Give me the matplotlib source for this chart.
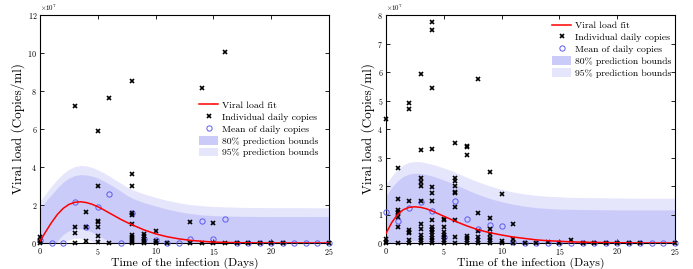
import numpy as np
import matplotlib as mpl
mpl.use('Agg')
import matplotlib.pyplot as plt
from matplotlib.ticker import ScalarFormatter
from matplotlib.lines import Line2D
from matplotlib.patches import Patch

plt.rcParams['font.family'] = 'serif'
plt.rcParams['font.serif'] = ['cmr10']
plt.rcParams['mathtext.fontset'] = 'cm'
plt.rcParams['axes.formatter.use_mathtext'] = True
plt.rcParams['axes.unicode_minus'] = False

# values in units of 1e7 copies/ml
day_grid = [0, 0.5, 1, 1.5, 2, 2.5, 3, 3.5, 4, 4.5, 5, 5.5, 6, 6.5, 7, 7.5, 8,
            9, 10, 11, 12, 13, 14, 15, 16, 18, 20, 22, 25]

# --- left panel ---
left_fit = [0.1, 0.6, 1.08, 1.5, 1.82, 2.03, 2.14, 2.17, 2.13, 2.04, 1.91, 1.75,
            1.58, 1.41, 1.24, 1.09, 0.95, 0.69, 0.48, 0.33, 0.22, 0.14, 0.09,
            0.05, 0.03, 0.01, 0.0, 0.0, 0.0]
left_up95 = [2.2, 2.6, 3.0, 3.35, 3.65, 3.88, 4.02, 4.08, 4.06, 3.98, 3.85, 3.7,
             3.52, 3.33, 3.14, 2.95, 2.8, 2.58, 2.4, 2.24, 2.12, 2.02, 1.96,
             1.92, 1.9, 1.87, 1.86, 1.86, 1.85]
left_up80 = [1.83, 2.2, 2.55, 2.9, 3.2, 3.42, 3.55, 3.6, 3.58, 3.52, 3.42, 3.27,
             3.1, 2.92, 2.72, 2.52, 2.35, 2.12, 1.95, 1.78, 1.65, 1.55, 1.48,
             1.44, 1.42, 1.4, 1.39, 1.39, 1.39]
left_lo80 = [-1.6, -1.0, -0.4, 0.1, 0.44, 0.64, 0.72, 0.74, 0.68, 0.56, 0.4, 0.23,
             0.06, -0.1, -0.24, -0.34, -0.45, -0.74, -0.99, -1.12, -1.21, -1.27,
             -1.3, -1.34, -1.36, -1.38, -1.39, -1.39, -1.39]
left_lo95 = [-2.0, -1.4, -0.84, -0.35, -0.01, 0.18, 0.26, 0.26, 0.2, 0.1, -0.03,
             -0.2, -0.36, -0.51, -0.66, -0.77, -0.88, -1.12, -1.4, -1.5, -1.6,
             -1.7, -1.77, -1.82, -1.84, -1.85, -1.86, -1.86, -1.85]

left_ind_day = ([0] * 3 + [3] * 4 + [4] * 3 + [5] * 7 + [6] * 2 + [8] * 11
                + [9] * 5 + [10] * 3 + [11] + [13] * 2 + [14] * 2 + [15] * 2
                + [16] * 2 + [17, 18, 19, 20, 21, 25])
left_ind_val = [0.33, 0.12, 0.0,
                7.2, 0.83, 0.54, 0.0,
                1.62, 0.86, 0.12,
                5.9, 3.0, 1.16, 1.12, 0.86, 0.37, 0.05,
                7.62, 0.02,
                8.53, 3.65, 3.0, 1.56, 1.45, 0.98, 0.42, 0.32, 0.2, 0.08, 0.0,
                0.45, 0.35, 0.2, 0.1, 0.0,
                0.63, 0.1, 0.0,
                0.0,
                1.12, 0.0,
                8.15, 0.0,
                1.07, 0.0,
                10.05, 0.0,
                0.0, 0.0, 0.0, 0.0, 0.0, 0.0]
left_mean_day = list(range(0, 26))
left_mean_val = [0.15, 0.0, 0.0, 2.14, 0.86, 1.88, 2.56, 0.0, 1.56, 0.22, 0.14,
                 0.0, 0.0, 0.2, 1.16, 0.2, 1.25, 0.0, 0.0, 0.0, 0.0, 0.0, 0.0,
                 0.0, 0.0, 0.0]

# --- right panel ---
right_fit = [0.34, 0.72, 1.0, 1.17, 1.25, 1.27, 1.25, 1.2, 1.12, 1.03, 0.94, 0.85,
             0.76, 0.68, 0.6, 0.53, 0.46, 0.36, 0.28, 0.21, 0.16, 0.11, 0.08,
             0.06, 0.04, 0.02, 0.01, 0.0, 0.0]
right_up95 = [2.05, 2.35, 2.58, 2.74, 2.83, 2.86, 2.85, 2.81, 2.76, 2.7, 2.63,
              2.56, 2.48, 2.39, 2.3, 2.22, 2.14, 2.0, 1.88, 1.79, 1.72, 1.67,
              1.64, 1.62, 1.6, 1.59, 1.58, 1.57, 1.57]
right_up80 = [1.65, 1.95, 2.18, 2.34, 2.42, 2.45, 2.44, 2.4, 2.35, 2.28, 2.21,
              2.13, 2.05, 1.96, 1.87, 1.78, 1.7, 1.56, 1.45, 1.36, 1.29, 1.24,
              1.21, 1.19, 1.18, 1.17, 1.16, 1.16, 1.16]
right_lo80 = [-0.97, -0.51, -0.18, 0.0, 0.08, 0.09, 0.06, 0.0, -0.11, -0.22,
              -0.33, -0.43, -0.53, -0.6, -0.67, -0.72, -0.78, -0.84, -0.89,
              -0.94, -0.97, -1.02, -1.05, -1.07, -1.1, -1.13, -1.14, -1.16, -1.16]
right_lo95 = [-1.37, -0.91, -0.58, -0.4, -0.33, -0.32, -0.35, -0.41, -0.52,
              -0.64, -0.75, -0.86, -0.96, -1.03, -1.1, -1.16, -1.22, -1.28,
              -1.32, -1.37, -1.4, -1.45, -1.48, -1.5, -1.52, -1.55, -1.56,
              -1.57, -1.57]

right_ind_day = ([0] * 4 + [1] * 8 + [2] * 8 + [3] * 12 + [4] * 16 + [5] * 8
                 + [6] * 10 + [7] * 7 + [8] * 6 + [9] * 7 + [10] * 3 + [11] * 3
                 + [12, 13, 14, 15, 16, 17, 18, 19, 20, 21, 22, 25])
right_ind_val = [4.34, 0.13, 0.05, 0.0,
                 2.63, 1.54, 1.16, 1.1, 1.04, 0.92, 0.56, 0.0,
                 4.9, 4.69, 1.47, 0.46, 0.38, 0.34, 0.1, 0.0,
                 5.94, 3.26, 2.29, 2.15, 2.01, 1.49, 0.67, 0.48, 0.27, 0.18, 0.1, 0.0,
                 7.74, 7.47, 5.45, 3.3, 1.98, 1.74, 1.49, 0.81, 0.57, 0.5, 0.45,
                 0.38, 0.27, 0.18, 0.1, 0.0,
                 0.85, 0.8, 0.55, 0.4, 0.27, 0.2, 0.1, 0.0,
                 3.5, 2.27, 2.17, 2.0, 1.8, 1.74, 1.26, 0.82, 0.22, 0.0,
                 3.39, 3.36, 3.1, 0.25, 0.19, 0.1, 0.0,
                 5.77, 1.06, 0.43, 0.22, 0.1, 0.0,
                 2.5, 0.89, 0.5, 0.3, 0.18, 0.1, 0.0,
                 1.72, 0.08, 0.0,
                 0.65, 0.13, 0.0,
                 0.0, 0.0, 0.05, 0.0, 0.1, 0.0, 0.0, 0.0, 0.0, 0.0, 0.0, 0.0]
right_mean_day = list(range(0, 26))
right_mean_val = [1.1, 0.77, 1.24, 1.45, 1.12, 0.2, 1.47, 0.83, 0.49, 0.63, 0.6,
                  0.05, 0.0, 0.0, 0.0, 0.0, 0.0, 0.0, 0.0, 0.0, 0.0, 0.0, 0.0,
                  0.0, 0.0, 0.0]

SCALE = 1e7
c80 = '#cbcbfa'
c95 = '#e5e5fc'
cmean = '#5b5bef'


def draw_panel(ax, fit, up95, up80, lo80, lo95, ind_d, ind_v, mean_d, mean_v,
               ymax, leg_anchor):
    x = np.array(day_grid)
    s = SCALE
    ax.fill_between(x, np.array(lo95) * s, np.array(up95) * s, color=c95, lw=0)
    ax.fill_between(x, np.array(lo80) * s, np.array(up80) * s, color=c80, lw=0)
    ax.fill_between(x, np.array(lo95) * s, np.array(lo80) * s, color=c95, lw=0)
    ax.plot(mean_d, np.array(mean_v) * s, 'o', mfc='none', mec=cmean, ms=3.8,
            mew=0.7, clip_on=False, zorder=3)
    ax.plot(ind_d, np.array(ind_v) * s, 'x', color='k', ms=2.4, mew=1.2,
            clip_on=False, zorder=4)
    ax.plot(x, np.array(fit) * s, color='red', lw=1.1, zorder=5)
    ax.set_xlim(0, 25)
    ax.set_ylim(0, ymax * s)
    ax.set_xticks([0, 5, 10, 15, 20, 25])
    ax.set_yticks(np.arange(0, ymax + 1, 2 if ymax > 8 else 1) * s)
    fmt = ScalarFormatter(useMathText=True)
    fmt.set_powerlimits((7, 7))
    ax.yaxis.set_major_formatter(fmt)
    ax.yaxis.get_offset_text().set_fontsize(5)
    ax.tick_params(direction='in', top=True, right=True, length=3, width=0.6,
                   labelsize=5.8, pad=2)
    for sp in ax.spines.values():
        sp.set_linewidth(0.8)
    ax.set_xlabel('Time of the infection (Days)', fontsize=8.5, labelpad=1)
    ax.set_ylabel('Viral load (Copies/ml)', fontsize=9.5, labelpad=2)
    handles = [Line2D([], [], color='red', lw=1.1),
               Line2D([], [], ls='none', marker='x', color='k', ms=2.4, mew=1.2),
               Line2D([], [], ls='none', marker='o', mfc='none', mec=cmean,
                      ms=3.8, mew=0.7),
               Patch(color=c80, lw=0),
               Patch(color=c95, lw=0)]
    labels = ['Viral load fit', 'Individual daily copies',
              'Mean of daily copies', '80% prediction bounds',
              '95% prediction bounds']
    ax.legend(handles, labels, loc='upper left', bbox_to_anchor=leg_anchor,
              frameon=False, fontsize=7, borderpad=0, borderaxespad=0,
              handlelength=2.0, handleheight=1.0, handletextpad=0.35,
              labelspacing=0.22, numpoints=1)


fig = plt.figure(figsize=(6.93, 2.69), dpi=100)
ax1 = fig.add_axes([40 / 693, 26 / 269, 289 / 693, 228 / 269])
ax2 = fig.add_axes([386 / 693, 26 / 269, 289 / 693, 228 / 269])

draw_panel(ax1, left_fit, left_up95, left_up80, left_lo80, left_lo95,
           left_ind_day, left_ind_val, left_mean_day, left_mean_val,
           12, (0.55, 0.625))
draw_panel(ax2, right_fit, right_up95, right_up80, right_lo80, right_lo95,
           right_ind_day, right_ind_val, right_mean_day, right_mean_val,
           8, (0.574, 0.975))

fig.savefig('out.png', dpi=100)
plt.close(fig)
